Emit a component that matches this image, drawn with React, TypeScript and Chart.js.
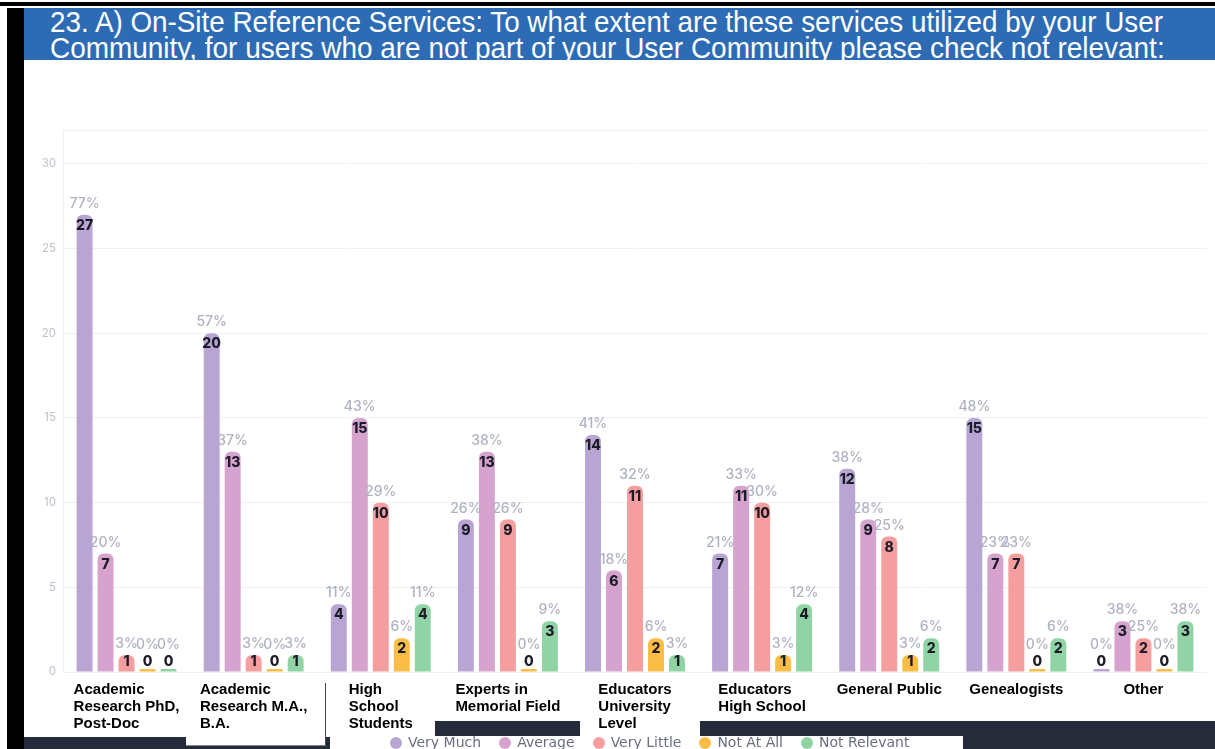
import React, { useEffect, useLayoutEffect, useRef } from "react";
import { Chart, registerables } from "chart.js";

Chart.register(...registerables);

const TITLE_LINES = [
  "23. A) On-Site Reference Services: To what extent are these services utilized by your User",
  "Community, for users who are not part of your User Community please check not relevant:",
];

const CATEGORIES: string[][] = [
  ["Academic", "Research PhD,", "Post-Doc"],
  ["Academic", "Research M.A.,", "B.A."],
  ["High", "School", "Students"],
  ["Experts in", "Memorial Field"],
  ["Educators", "University", "Level"],
  ["Educators", "High School"],
  ["General Public"],
  ["Genealogists"],
  ["Other"],
];

const SERIES_NAMES = ["Very Much", "Average", "Very Little", "Not At All", "Not Relevant"];
const VERY_MUCH = [27, 20, 4, 9, 14, 7, 12, 15, 0];
const AVERAGE = [7, 13, 15, 13, 6, 11, 9, 7, 3];
const VERY_LITTLE = [1, 1, 10, 9, 11, 10, 8, 7, 2];
const NOT_AT_ALL = [0, 0, 2, 0, 2, 1, 1, 0, 0];
const NOT_RELEVANT = [0, 1, 4, 3, 1, 4, 2, 2, 3];
const SERIES_VALUES = [VERY_MUCH, AVERAGE, VERY_LITTLE, NOT_AT_ALL, NOT_RELEVANT];
const SERIES_COLORS = ["#b8a5d4", "#d6a3ce", "#f59e9f", "#fbbd46", "#90d4a5"];
const Y_TICKS = [0, 5, 10, 15, 20, 25, 30];
const Y_MAX = 32;

const valueLabelPlugin = {
  id: "valueLabels",
  afterDatasetsDraw(chart: any) {
    const ctx = chart.ctx;
    const totals = CATEGORIES.map((_, i) =>
      SERIES_VALUES.reduce((s, arr) => s + arr[i], 0)
    );
    chart.data.datasets.forEach((ds: any, di: number) => {
      const meta = chart.getDatasetMeta(di);
      meta.data.forEach((bar: any, i: number) => {
        const v = ds.data[i];
        const { x, y, base } = bar.getProps(["x", "y", "base"], true);
        const countY = Math.min(y + 11, base - 10);
        const pctY = Math.min(y - 11, countY - 17);
        const pct = totals[i] ? Math.round((v / totals[i]) * 100) : 0;
        ctx.save();
        ctx.textAlign = "center";
        ctx.textBaseline = "middle";
        ctx.font = "500 14px Inter, 'Noto Sans', sans-serif";
        ctx.fillStyle = "#afb2c3";
        ctx.fillText(pct + "%", x, pctY);
        ctx.font = "800 14px Inter, 'Noto Sans', sans-serif";
        ctx.fillStyle = "#1c1c28";
        ctx.fillText(String(v), x, countY);
        ctx.restore();
      });
    });
  },
};

const categoryLabelPlugin = {
  id: "categoryLabels",
  afterDraw(chart: any) {
    const ctx = chart.ctx;
    const xScale = chart.scales.x;
    const bottom = chart.chartArea.bottom;
    ctx.save();
    ctx.font = "700 15px 'Liberation Sans', Arial, sans-serif";
    ctx.fillStyle = "#000000";
    ctx.textAlign = "left";
    ctx.textBaseline = "middle";
    CATEGORIES.forEach((lines, i) => {
      const cx = xScale.getPixelForValue(i);
      const w = Math.max(...lines.map((l) => ctx.measureText(l).width));
      const left = cx - w / 2;
      lines.forEach((line, k) => {
        ctx.fillText(line, left, bottom + 18 + k * 17);
      });
    });
    ctx.restore();
  },
};

function ChartCanvas() {
  const ref = useRef<HTMLCanvasElement | null>(null);
  useEffect(() => {
    if (!ref.current) return;
    const chart = new Chart(ref.current, {
      type: "bar",
      data: {
        labels: CATEGORIES.map((c) => c.join(" ")),
        datasets: SERIES_NAMES.map((name, si) => ({
          label: name,
          data: SERIES_VALUES[si],
          backgroundColor: SERIES_COLORS[si],
          borderRadius: { topLeft: 6, topRight: 6, bottomLeft: 0, bottomRight: 0 },
          borderSkipped: false,
          minBarLength: 3,
          categoryPercentage: 0.826,
          barPercentage: 0.76,
        })),
      },
      options: {
        animation: false,
        responsive: false,
        devicePixelRatio: 1,
        layout: { padding: { top: 68, right: 8, bottom: 77, left: 0 } },
        plugins: {
          legend: { display: false },
          tooltip: { enabled: false },
        },
        scales: {
          x: { display: false },
          y: {
            min: 0,
            max: Y_MAX,
            afterFit: (scale: any) => {
              scale.width = 39;
            },
            afterBuildTicks: (scale: any) => {
              scale.ticks = [...Y_TICKS, Y_MAX].map((v) => ({ value: v }));
            },
            ticks: {
              padding: 7,
              color: "#c0c3cc",
              font: { family: "Inter, 'Noto Sans', sans-serif", size: 11.5 },
              callback: (v: any) => (Y_TICKS.includes(Number(v)) ? String(v) : ""),
            },
            grid: { color: "#eef0f4", drawTicks: false },
            border: { display: true, color: "#eef0f4" },
          },
        },
      } as any,
      plugins: [valueLabelPlugin, categoryLabelPlugin],
    });
    return () => chart.destroy();
  }, []);
  return <canvas ref={ref} width={1191} height={687} style={{ display: "block", width: 1191, height: 687 }} />;
}

function FitText({ text, top, width }: { text: string; top: number; width: number }) {
  const ref = useRef<HTMLSpanElement | null>(null);
  useLayoutEffect(() => {
    const el = ref.current;
    if (!el) return;
    const w = el.offsetWidth;
    if (w > 0) el.style.transform = `scaleX(${width / w})`;
  }, [text, width]);
  return (
    <span
      ref={ref}
      style={{
        position: "absolute",
        left: 26,
        top,
        whiteSpace: "nowrap",
        fontFamily: "'Liberation Sans', Arial, sans-serif",
        fontSize: 30,
        lineHeight: "30px",
        color: "#ffffff",
        transformOrigin: "0 0",
      }}
    >
      {text}
    </span>
  );
}

const box = (left: number, top: number, width: number, height: number, bg: string, extra: any = {}) => (
  <div style={{ position: "absolute", left, top, width, height, background: bg, ...extra }} />
);

export default function App() {
  return (
    <div
      style={{
        position: "fixed",
        left: 0,
        top: 0,
        width: 1215,
        height: 749,
        background: "#ffffff",
        overflow: "hidden",
      }}
    >
      {box(0, 2, 1215, 4, "#000000")}
      {box(7, 8, 17, 741, "#000000")}
      <div
        style={{
          position: "absolute",
          left: 24,
          top: 8,
          width: 1191,
          height: 52,
          background: "#2d6cb5",
          overflow: "hidden",
        }}
      >
        <FitText text={TITLE_LINES[0]} top={-1} width={1113} />
        <FitText text={TITLE_LINES[1]} top={25} width={1115} />
      </div>
      {box(24, 737, 306, 12, "#262b3a")}
      {box(435, 721, 145, 16, "#262b3a")}
      {box(700, 721, 515, 28, "#262b3a")}
      {box(186, 683, 139, 62, "#ffffff", { borderRight: "1px solid #444", borderBottom: "1px solid #888" })}
      <div style={{ position: "absolute", left: 24, top: 62, width: 1191, height: 687 }}>
        <ChartCanvas />
      </div>
      <div
        style={{
          position: "absolute",
          left: 330,
          top: 736,
          width: 633,
          height: 13,
          background: "#ffffff",
          display: "flex",
          alignItems: "center",
          paddingLeft: 60,
          boxSizing: "border-box",
          gap: 18,
          fontFamily: "'DejaVu Sans', sans-serif",
          fontSize: 14,
          color: "#6a6f80",
        }}
      >
        {SERIES_NAMES.map((name, i) => (
          <div key={name} style={{ display: "flex", alignItems: "center", gap: 6 }}>
            <span
              style={{
                width: 12,
                height: 12,
                borderRadius: 6,
                background: SERIES_COLORS[i],
                display: "inline-block",
              }}
            />
            <span style={{ lineHeight: "13px" }}>{name}</span>
          </div>
        ))}
      </div>
    </div>
  );
}
